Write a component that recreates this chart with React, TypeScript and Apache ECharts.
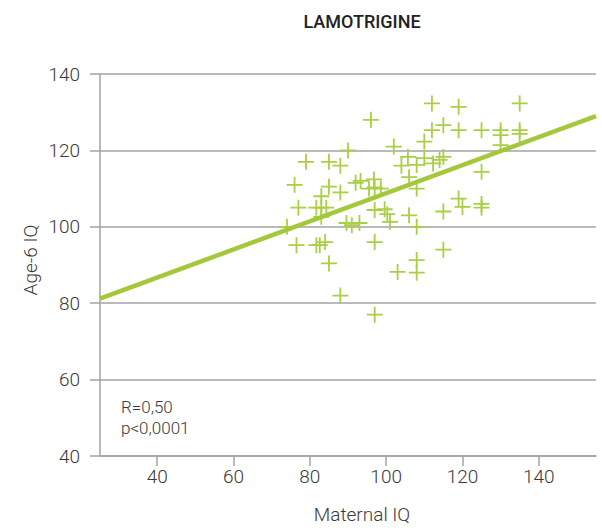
import React, { useEffect, useRef } from "react";
import * as echarts from "echarts";

const title = "LAMOTRIGINE";
const xName = "Maternal IQ";
const yName = "Age-6 IQ";
const statLines = ["R=0,50", "p<0,0001"];

const xTicks = [40, 60, 80, 100, 120, 140];
const yTicks = [40, 60, 80, 100, 120, 140];

// [maternal IQ, age-6 IQ]
const points: number[][] = [
  [96, 128], [90, 120], [102, 121], [79, 117], [85, 117], [88, 116], [104, 116],
  [76, 111], [85, 110.5], [88, 109], [83, 108],
  [92, 111.5], [93.3, 112], [96.8, 112.4], [97, 110.3], [98.6, 110], [95.5, 110],
  [77, 105], [81.7, 105], [83, 105], [84.3, 105], [83, 102.6],
  [97, 104.4], [99.6, 104.6], [100.3, 103.3], [101, 101.3],
  [74, 100], [89.6, 101], [91, 100.4], [93, 101],
  [76.5, 95.2], [81.7, 95.2], [82.6, 95.2], [84, 96], [97, 96],
  [85, 90.4], [103, 88.2], [88, 82], [97, 77],
  [112, 132.3], [119, 131.4], [135, 132.3],
  [112, 125.3], [115, 126.6], [119, 125.3], [125, 125.3], [130, 125.3], [130, 124], [130, 121.4],
  [135, 125.3], [135, 124.3],
  [110, 122.3],
  [105.7, 118.3], [108, 116.2], [110, 118], [112.3, 116.6], [114, 117.5], [115, 118.3],
  [106, 113], [108, 110], [125, 114.4],
  [119, 107.4], [120, 105.2], [125, 106], [125, 105],
  [106, 103], [115, 104], [108, 100], [115, 94], [108, 91.3], [108, 88],
];

const regression: number[][] = [
  [25, 81.2],
  [155, 129],
];

const FONT = "Roboto";
const TEXT = "#3a3a3a";
const GRID = "#a3a3a3";
const GREEN_LINE = "#a3c83a";
const GREEN_MARK = "#a9cf45";

const CROSS = "path://M7.1,0H8.9V7.1H16V8.9H8.9V16H7.1V8.9H0V7.1H7.1Z";

export default function App() {
  const ref = useRef<HTMLDivElement>(null);
  useEffect(() => {
    if (!ref.current) return;
    const chart = echarts.init(ref.current, undefined, { renderer: "svg" });
    chart.setOption({
      animation: false,
      backgroundColor: "#ffffff",
      grid: { left: 100, right: 6, top: 74, bottom: 74, containLabel: false },
      xAxis: {
        type: "value",
        min: 25,
        max: 155,
        axisLine: { show: true, lineStyle: { color: GRID, width: 1.5 } },
        axisTick: {
          show: true,
          length: 10,
          customValues: xTicks,
          lineStyle: { color: GRID, width: 1.5 },
        },
        axisLabel: {
          customValues: xTicks,
          margin: 11,
          color: TEXT,
          fontFamily: FONT,
          fontWeight: 300,
          fontSize: 19,
        },
        splitLine: { show: false },
      },
      yAxis: {
        type: "value",
        min: 40,
        max: 140,
        interval: 20,
        axisLine: { show: true, lineStyle: { color: GRID, width: 1.5 } },
        axisTick: { show: true, length: 10, lineStyle: { color: GRID, width: 1.5 } },
        axisLabel: {
          margin: 20,
          color: TEXT,
          fontFamily: FONT,
          fontWeight: 300,
          fontSize: 19,
        },
        splitLine: { show: true, lineStyle: { color: GRID, width: 1.5 } },
      },
      series: [
        {
          type: "scatter",
          data: points,
          symbol: CROSS,
          symbolSize: 16,
          itemStyle: { color: GREEN_MARK, opacity: 1 },
          z: 2,
        },
        {
          type: "line",
          data: regression,
          symbol: "none",
          lineStyle: { color: GREEN_LINE, width: 4.5 },
          z: 3,
        },
      ],
      graphic: [
        {
          type: "text",
          x: 362,
          y: 21,
          style: {
            text: title,
            fill: "#222222",
            font: `500 18px ${FONT}`,
            textAlign: "center",
            textVerticalAlign: "middle",
          },
        },
        {
          type: "text",
          x: 362,
          y: 514,
          style: {
            text: xName,
            fill: TEXT,
            font: `300 19px ${FONT}`,
            textAlign: "center",
            textVerticalAlign: "middle",
          },
        },
        {
          type: "text",
          x: 30,
          y: 260,
          rotation: Math.PI / 2,
          style: {
            text: yName,
            fill: TEXT,
            font: `300 19px ${FONT}`,
            textAlign: "center",
            textVerticalAlign: "middle",
          },
        },
        {
          type: "text",
          x: 121,
          y: 398,
          style: {
            text: statLines[0],
            fill: TEXT,
            font: `300 17px ${FONT}`,
            textAlign: "left",
            textVerticalAlign: "top",
          },
        },
        {
          type: "text",
          x: 121,
          y: 419,
          style: {
            text: statLines[1],
            fill: TEXT,
            font: `300 17px ${FONT}`,
            textAlign: "left",
            textVerticalAlign: "top",
          },
        },
      ],
    });
    return () => chart.dispose();
  }, []);
  return (
    <div
      ref={ref}
      style={{ position: "fixed", left: 0, top: 0, width: 602, height: 530 }}
    />
  );
}
